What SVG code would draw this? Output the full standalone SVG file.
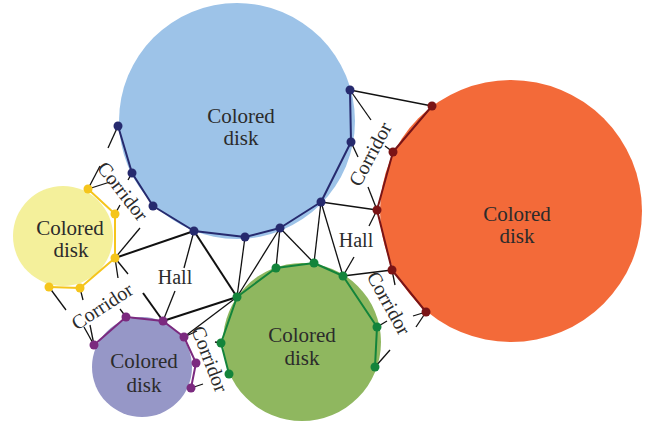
<svg xmlns="http://www.w3.org/2000/svg" width="646" height="421" viewBox="0 0 646 421">
<style>
.lbl{font-family:"Liberation Serif","Times New Roman",serif;font-size:21px;fill:#2b2b2b;text-anchor:middle}
.sm{font-family:"Liberation Serif","Times New Roman",serif;font-size:20px;fill:#2b2b2b;text-anchor:middle}
.c line{stroke:#111;stroke-width:1.3;stroke-linecap:butt}
.c .t{stroke-width:2}
.poly{fill:none;stroke-width:2;stroke-linejoin:round}
</style>
<rect width="646" height="421" fill="#fff"/>
<g id="disk-blue-bg"><circle cx="237" cy="121" r="118" fill="#9dc3e8"/></g>
<g id="disk-orange-bg"><circle cx="511" cy="211" r="131" fill="#f36a39"/></g>
<g id="disk-yellow-bg"><circle cx="63" cy="236" r="50" fill="#f4f09b"/></g>
<g id="disk-purple-bg"><circle cx="142" cy="367" r="50" fill="#9697c7"/></g>
<g id="disk-green-bg"><circle cx="302" cy="342" r="79" fill="#8fb75f"/></g>

<g id="connectors" class="c">
<line class="t" x1="115" y1="258" x2="194" y2="231"/>
<line class="t" x1="194" y1="231" x2="237" y2="297"/>
<line class="t" x1="237" y1="297" x2="163" y2="321"/>
<line x1="245" y1="237" x2="237" y2="297"/>
<line x1="280" y1="228" x2="237" y2="297"/>
<line x1="280" y1="228" x2="276" y2="268"/>
<line x1="280" y1="228" x2="314" y2="263"/>
<line x1="321" y1="202" x2="314" y2="263"/>
<line x1="321" y1="202" x2="343" y2="276"/>
<line x1="321" y1="202" x2="377" y2="210"/>
<line x1="343" y1="276" x2="392" y2="270"/>
<line x1="350" y1="90" x2="432" y2="106"/>
<line x1="237" y1="297" x2="184" y2="337"/>
<!-- hall stubs -->
<line x1="194" y1="231" x2="184" y2="268"/>
<line x1="163" y1="321" x2="175" y2="291"/>
<line class="t" x1="143" y1="293" x2="163" y2="321"/>
<line x1="377" y1="210" x2="369" y2="226"/>
<line x1="343" y1="276" x2="354" y2="257"/>
<!-- corridor stubs top-left -->
<line x1="118" y1="126" x2="108" y2="148"/>
<line x1="88" y1="189" x2="100" y2="166"/>
<line x1="88" y1="189" x2="110" y2="182"/>
<line x1="132" y1="173" x2="128" y2="180"/>
<line x1="115" y1="214" x2="120" y2="205"/>
<line x1="115" y1="258" x2="140" y2="228"/>
<!-- corridor stubs right-top -->
<line x1="350" y1="90" x2="371" y2="120"/>
<line x1="351" y1="142" x2="358" y2="157"/>
<line x1="393" y1="152" x2="385" y2="146"/>
<line x1="377" y1="210" x2="368" y2="187"/>
<!-- corridor stubs right-bottom -->
<line x1="392" y1="270" x2="395" y2="285"/>
<line x1="426" y1="312" x2="413" y2="316"/>
<line x1="426" y1="312" x2="416" y2="327"/>
<line x1="377" y1="327" x2="387" y2="321"/>
<line x1="375" y1="367" x2="390" y2="350"/>
<!-- corridor stubs bottom-left -->
<line x1="49" y1="287" x2="66" y2="310"/>
<line x1="80" y1="288" x2="83" y2="300"/>
<line x1="115" y1="258" x2="118" y2="278"/>
<line x1="115" y1="258" x2="128" y2="274"/>
<line x1="94" y1="345" x2="84" y2="327"/>
<line x1="94" y1="345" x2="90" y2="325"/>
<line x1="126" y1="317" x2="120" y2="309"/>
<!-- corridor stubs bottom-middle -->
<line x1="184" y1="337" x2="197" y2="331"/>
<line x1="191" y1="388" x2="203" y2="384"/>
<line x1="221" y1="343" x2="215" y2="342"/>
</g>

<g id="node-blue">
<polyline class="poly" stroke="#262a6e" points="350,90 351,142 321,202 280,228 245,237 194,231 153,206 132,173 118,126"/>
<g fill="#262a6e">
<circle cx="350" cy="90" r="4.5"/><circle cx="351" cy="142" r="4.5"/><circle cx="321" cy="202" r="4.5"/><circle cx="280" cy="228" r="4.5"/><circle cx="245" cy="237" r="4.5"/><circle cx="194" cy="231" r="4.5"/><circle cx="153" cy="206" r="4.5"/><circle cx="132" cy="173" r="4.5"/><circle cx="118" cy="126" r="4.5"/>
</g>
<text class="lbl" x="241" y="123">Colored</text><text class="lbl" x="241" y="145">disk</text>
</g>

<g id="node-orange">
<polyline class="poly" stroke="#7a1416" points="432,106 393,152 377,210 392,270 426,312"/>
<g fill="#7a1416">
<circle cx="432" cy="106" r="4.5"/><circle cx="393" cy="152" r="4.5"/><circle cx="377" cy="210" r="4.5"/><circle cx="392" cy="270" r="4.5"/><circle cx="426" cy="312" r="4.5"/>
</g>
<text class="lbl" x="517" y="221">Colored</text><text class="lbl" x="517" y="243">disk</text>
</g>

<g id="node-yellow">
<polyline class="poly" stroke="#f5c51c" points="88,189 115,214 115,258 80,288 49,287"/>
<g fill="#f5c51c">
<circle cx="88" cy="189" r="4.5"/><circle cx="115" cy="214" r="4.5"/><circle cx="115" cy="258" r="4.5"/><circle cx="80" cy="288" r="4.5"/><circle cx="49" cy="287" r="4.5"/>
</g>
<text class="lbl" x="70" y="235">Colored</text><text class="lbl" x="71" y="257">disk</text>
</g>

<g id="node-purple">
<polyline class="poly" stroke="#7b2a7f" points="94,345 126,317 163,321 184,337 196,363 191,388"/>
<g fill="#7b2a7f">
<circle cx="94" cy="345" r="4.5"/><circle cx="126" cy="317" r="4.5"/><circle cx="163" cy="321" r="4.5"/><circle cx="184" cy="337" r="4.5"/><circle cx="196" cy="363" r="4.5"/><circle cx="191" cy="388" r="4.5"/>
</g>
<text class="lbl" x="144" y="368">Colored</text><text class="lbl" x="144" y="392">disk</text>
</g>

<g id="node-green">
<polyline class="poly" stroke="#13843b" points="229,374 221,343 237,297 276,268 314,263 343,276 377,327 375,367"/>
<g fill="#13843b">
<circle cx="229" cy="374" r="4.5"/><circle cx="221" cy="343" r="4.5"/><circle cx="237" cy="297" r="4.5"/><circle cx="276" cy="268" r="4.5"/><circle cx="314" cy="263" r="4.5"/><circle cx="343" cy="276" r="4.5"/><circle cx="377" cy="327" r="4.5"/><circle cx="375" cy="367" r="4.5"/>
</g>
<text class="lbl" x="302" y="342">Colored</text><text class="lbl" x="302" y="365">disk</text>
</g>

<g id="labels">
<text class="sm" x="175" y="284">Hall</text>
<text class="sm" x="356" y="247">Hall</text>
<text class="sm" transform="translate(123,191) rotate(52)" y="7">Corridor</text>
<text class="sm" transform="translate(370,154) rotate(-62)" y="7">Corridor</text>
<text class="sm" transform="translate(389,303) rotate(61)" y="7">Corridor</text>
<text class="sm" transform="translate(102,306) rotate(-33)" y="7">Corridor</text>
<text class="sm" transform="translate(210,359) rotate(69)" y="7">Corridor</text>
</g>
</svg>
